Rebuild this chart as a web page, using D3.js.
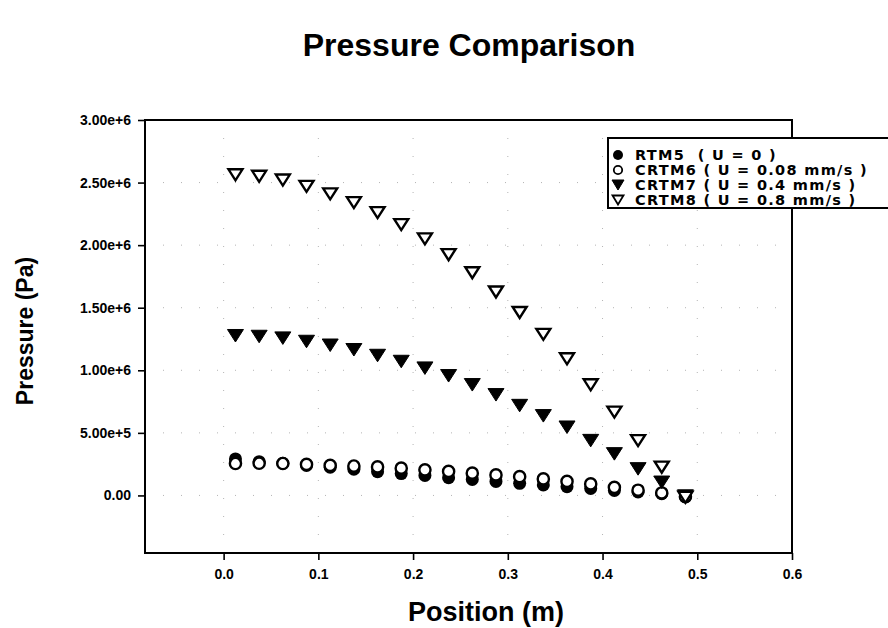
<!DOCTYPE html>
<html lang="en">
	<head>
		<meta charset="utf-8">
		<title>Pressure Comparison</title>
		<script type="text/javascript" src="https://d3js.org/d3.v7.min.js"></script>
		<style type="text/css">
			body { margin: 0; background: #fff; }
			text { font-family: "Liberation Sans", Arial, sans-serif; font-weight: bold; fill: #000; }
		</style>
	</head>
	<body>
		<script type="text/javascript">

			//Width and height
			var w = 888;
			var h = 628;

			//Data (pressure in Pa)
			var positions = [0.0125, 0.0375, 0.0625, 0.0875, 0.1125, 0.1375, 0.1625, 0.1875, 0.2125, 0.2375,
			                 0.2625, 0.2875, 0.3125, 0.3375, 0.3625, 0.3875, 0.4125, 0.4375, 0.4625, 0.4875];
			var rtm5  = [2.92e5, 2.70e5, 2.57e5, 2.40e5, 2.25e5, 2.10e5, 1.90e5, 1.75e5, 1.60e5, 1.42e5,
			             1.28e5, 1.12e5, 0.97e5, 0.84e5, 0.70e5, 0.56e5, 0.40e5, 0.28e5, 0.14e5, -0.10e5];
			var crtm6 = [2.55e5, 2.57e5, 2.55e5, 2.48e5, 2.40e5, 2.35e5, 2.28e5, 2.18e5, 2.05e5, 1.92e5,
			             1.78e5, 1.64e5, 1.50e5, 1.32e5, 1.12e5, 0.92e5, 0.65e5, 0.42e5, 0.20e5, -0.10e5];
			var crtm7 = [1.276e6, 1.270e6, 1.257e6, 1.230e6, 1.200e6, 1.164e6, 1.118e6, 1.070e6, 1.017e6, 0.956e6,
			             0.884e6, 0.804e6, 0.718e6, 0.636e6, 0.545e6, 0.438e6, 0.332e6, 0.212e6, 0.105e6, -0.005e6];
			var crtm8 = [2.562e6, 2.550e6, 2.520e6, 2.470e6, 2.410e6, 2.340e6, 2.260e6, 2.164e6, 2.050e6, 1.924e6,
			             1.780e6, 1.626e6, 1.462e6, 1.287e6, 1.092e6, 0.884e6, 0.666e6, 0.438e6, 0.226e6, -0.015e6];

			var seriesNames = ["RTM5  ( U = 0 )", "CRTM6 ( U = 0.08 mm/s )", "CRTM7 ( U = 0.4 mm/s )", "CRTM8 ( U = 0.8 mm/s )"];

			var xTicks = [0, 0.1, 0.2, 0.3, 0.4, 0.5, 0.6];
			var xTickLabels = ["0.0", "0.1", "0.2", "0.3", "0.4", "0.5", "0.6"];
			var yTicks = [0, 5e5, 1e6, 1.5e6, 2e6, 2.5e6, 3e6];
			var yTickLabels = ["0.00", "5.00e+5", "1.00e+6", "1.50e+6", "2.00e+6", "2.50e+6", "3.00e+6"];

			//plot box (note: "top" is taken by window.top, so use other names)
			var boxL = 145, boxR = 792, boxT = 120, boxB = 553;

			var x = d3.scaleLinear().domain([-0.083, 0.6]).range([boxL, boxR]);
			var y = d3.scaleLinear().domain([-4.6e5, 3.0e6]).range([boxB, boxT]);

			//Create SVG element
			var svg = d3.select("body")
						.append("svg")
						.attr("width", w)
						.attr("height", h);

			//faint, sparse dotted grid
			var grid = svg.append("g").attr("stroke", "#b4b4b4").attr("stroke-width", 1).attr("stroke-dasharray", "1,17");
			grid.selectAll("line.gy").data(yTicks).enter().append("line")
				.attr("x1", boxL).attr("x2", boxR)
				.attr("y1", function(d) { return y(d); })
				.attr("y2", function(d) { return y(d); });
			grid.selectAll("line.gx").data(xTicks).enter().append("line")
				.attr("y1", boxT).attr("y2", boxB)
				.attr("x1", function(d) { return x(d); })
				.attr("x2", function(d) { return x(d); });

			//axes
			var yAxis = d3.axisLeft(y).tickValues(yTicks)
				.tickFormat(function(d, i) { return yTickLabels[i]; })
				.tickSize(7).tickPadding(7).tickSizeOuter(0);
			var xAxis = d3.axisBottom(x).tickValues(xTicks)
				.tickFormat(function(d, i) { return xTickLabels[i]; })
				.tickSize(7).tickPadding(9).tickSizeOuter(0);

			var gy = svg.append("g").attr("transform", "translate(" + boxL + ",0)").call(yAxis);
			var gx = svg.append("g").attr("transform", "translate(0," + boxB + ")").call(xAxis);
			[gy, gx].forEach(function(g) {
				g.select(".domain").remove();
				g.selectAll(".tick line").attr("stroke", "#000").attr("stroke-width", 1.6);
				g.selectAll(".tick text").style("font-size", "14px").attr("font-family", null);
			});

			//frame
			svg.append("rect")
				.attr("x", boxL).attr("y", boxT)
				.attr("width", boxR - boxL).attr("height", boxB - boxT)
				.attr("fill", "none").attr("stroke", "#000").attr("stroke-width", 2);

			//marker shapes
			function downTriangle(wd, ht) {
				return "M" + (-wd / 2) + "," + (-ht / 2) + "L" + (wd / 2) + "," + (-ht / 2) + "L0," + (ht / 2) + "Z";
			}
			var styles = [
				{ path: d3.symbol().type(d3.symbolCircle).size(Math.PI * 6.5 * 6.5)(), fill: "#000", stroke: "none", sw: 0 },
				{ path: d3.symbol().type(d3.symbolCircle).size(Math.PI * 5.6 * 5.6)(), fill: "#fff", stroke: "#000", sw: 2.4 },
				{ path: downTriangle(16, 12.5), fill: "#000", stroke: "#000", sw: 1 },
				{ path: downTriangle(14, 11), fill: "#fff", stroke: "#000", sw: 2.4 }
			];
			var allSeries = [rtm5, crtm6, crtm7, crtm8];

			allSeries.forEach(function(vals, s) {
				svg.append("g").selectAll("path")
					.data(vals)
					.enter()
					.append("path")
					.attr("d", styles[s].path)
					.attr("transform", function(d, i) { return "translate(" + x(positions[i]) + "," + y(d) + ")"; })
					.attr("fill", styles[s].fill)
					.attr("stroke", styles[s].stroke)
					.attr("stroke-width", styles[s].sw);
			});

			//legend
			var legend = svg.append("g");
			legend.append("rect")
				.attr("x", 608).attr("y", 138)
				.attr("width", 300).attr("height", 70)
				.attr("fill", "#fff").attr("stroke", "#000").attr("stroke-width", 2);
			var rowY = [155, 170, 185, 200];
			var legendStyles = [
				{ path: d3.symbol().type(d3.symbolCircle).size(Math.PI * 5 * 5)(), fill: "#000", stroke: "none", sw: 0 },
				{ path: d3.symbol().type(d3.symbolCircle).size(Math.PI * 4.2 * 4.2)(), fill: "#fff", stroke: "#000", sw: 1.8 },
				{ path: downTriangle(12, 10), fill: "#000", stroke: "#000", sw: 1 },
				{ path: downTriangle(11, 9), fill: "#fff", stroke: "#000", sw: 1.8 }
			];
			seriesNames.forEach(function(name, s) {
				legend.append("path")
					.attr("d", legendStyles[s].path)
					.attr("transform", "translate(618," + rowY[s] + ")")
					.attr("fill", legendStyles[s].fill)
					.attr("stroke", legendStyles[s].stroke)
					.attr("stroke-width", legendStyles[s].sw);
				legend.append("text")
					.attr("x", 635).attr("y", rowY[s])
					.attr("dy", "0.36em")
					.style("font-family", "'DejaVu Sans', sans-serif")
					.style("font-size", "14.5px")
					.style("letter-spacing", "1.3px")
					.style("white-space", "pre")
					.text(name);
			});

			//titles
			svg.append("text")
				.attr("x", 469).attr("y", 56)
				.attr("text-anchor", "middle")
				.style("font-size", "32px")
				.text("Pressure Comparison");

			svg.append("text")
				.attr("transform", "translate(33,331) rotate(-90)")
				.attr("text-anchor", "middle")
				.style("font-size", "23px")
				.text("Pressure (Pa)");

			svg.append("text")
				.attr("x", 486).attr("y", 621)
				.attr("text-anchor", "middle")
				.style("font-size", "27px")
				.text("Position (m)");

		</script>
	</body>
</html>
